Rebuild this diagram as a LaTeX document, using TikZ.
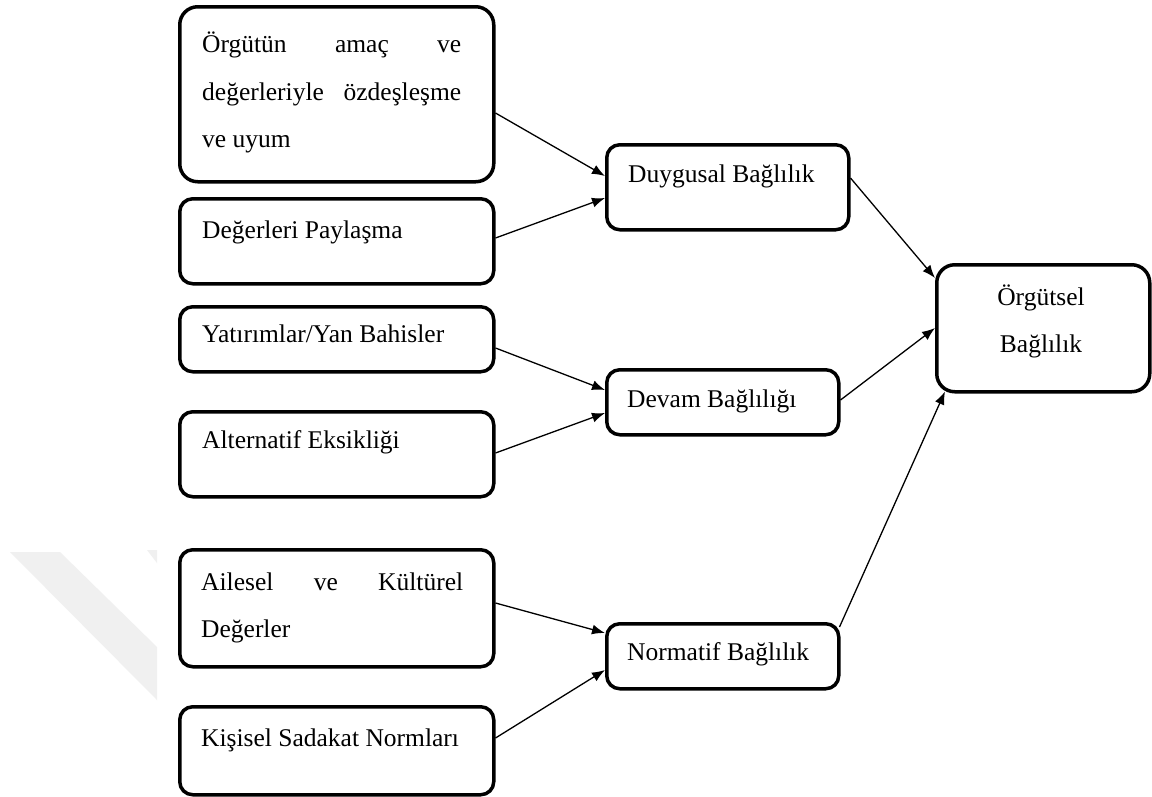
\documentclass[tikz,border=0pt]{standalone}
\usepackage{fontspec}
\setmainfont{Liberation Serif}
\usetikzlibrary{arrows.meta}
\tikzset{
  box/.style={draw=black, line width=3.5pt, fill=white, rounded corners=18pt, inner sep=0pt, anchor=north west},
  sbox/.style={box, rounded corners=13pt},
  lbl/.style={inner sep=0pt, anchor=base west, font=\fontsize{25.5}{30}\selectfont},
  clbl/.style={lbl, anchor=base},
  arr/.style={line width=1.3pt, -{Latex[length=13pt,width=10pt]}},
  ln/.style={line width=1.3pt}
}
\begin{document}
\begin{tikzpicture}[x=1pt,y=-1pt]
\useasboundingbox[fill=white] (0,0) rectangle (1152,796);
% faint watermark
\fill[black!6] (10,552) -- (60,552) -- (157,647) -- (157,700) -- cycle;
\fill[black!6] (147,550) -- (157,550) -- (157,563) -- cycle;
% left boxes
\node[box, minimum width=314pt, minimum height=175pt] (b1) at (178,5) {};
\node[sbox, minimum width=314pt, minimum height=85pt] (b2) at (178,197) {};
\node[sbox, minimum width=314pt, minimum height=65pt] (b3) at (178,305) {};
\node[sbox, minimum width=314pt, minimum height=85pt] (b4) at (178,410) {};
\node[sbox, minimum width=314pt, minimum height=117pt] (b5) at (178,548) {};
\node[sbox, minimum width=314pt, minimum height=88pt] (b6) at (178,705) {};
% middle boxes
\node[sbox, minimum width=242pt, minimum height=85pt] (dg) at (605,143) {};
\node[sbox, minimum width=232pt, minimum height=65pt] (dv) at (605,368) {};
\node[sbox, minimum width=232pt, minimum height=65pt] (nm) at (605,622) {};
% right box
\node[box, minimum width=213pt, minimum height=127pt] (og) at (935,263) {};
% texts
\node[lbl] (t1a) at (202,52) {\makebox[259pt][l]{Örgütün\hfill amaç\hfill ve}};
\node[lbl] (t1b) at (202,100) {\makebox[259pt][l]{değerleriyle\hfill özdeşleşme}};
\node[lbl] (t1c) at (202,147) {ve uyum};
\node[lbl] (t2) at (202,238) {Değerleri Paylaşma};
\node[lbl] (t3) at (202,342) {Yatırımlar/Yan Bahisler};
\node[lbl] (t4) at (202,448) {Alternatif Eksikliği};
\node[lbl] (t5a) at (201,590) {\makebox[262pt][l]{Ailesel\hfill ve\hfill Kültürel}};
\node[lbl] (t5b) at (201,637) {Değerler};
\node[lbl] (t6) at (201,746) {Kişisel Sadakat Normları};
\node[lbl] (tdg) at (628,182) {Duygusal Bağlılık};
\node[lbl] (tdv) at (627,407) {Devam Bağlılığı};
\node[lbl] (tnm) at (627,660) {Normatif Bağlılık};
\node[clbl] (toga) at (1041,305) {Örgütsel};
\node[clbl] (togb) at (1041,352) {Bağlılık};
% connectors
\draw[arr] ([yshift=-108pt]b1.north east) -- ([yshift=-33pt]dg.north west);
\draw[arr] ([yshift=-41pt]b2.north east) -- ([yshift=-55pt]dg.north west);
\draw[arr] ([yshift=-43pt]b3.north east) -- ([yshift=-22pt]dv.north west);
\draw[arr] ([yshift=-43pt]b4.north east) -- ([yshift=-45pt]dv.north west);
\draw[arr] ([yshift=-55pt]b5.north east) -- ([yshift=-11pt]nm.north west);
\draw[arr] ([yshift=-33pt]b6.north east) -- ([yshift=-48pt]nm.north west);
\draw[arr] ([yshift=-35pt]dg.north east) -- ([yshift=-15pt]og.north west);
\draw[arr] ([yshift=-32pt]dv.north east) -- ([yshift=-65pt]og.north west);
\draw[arr] ([xshift=-1pt,yshift=-5pt]nm.north east) -- ([xshift=10pt,yshift=2pt]og.south west);
\end{tikzpicture}
\end{document}
